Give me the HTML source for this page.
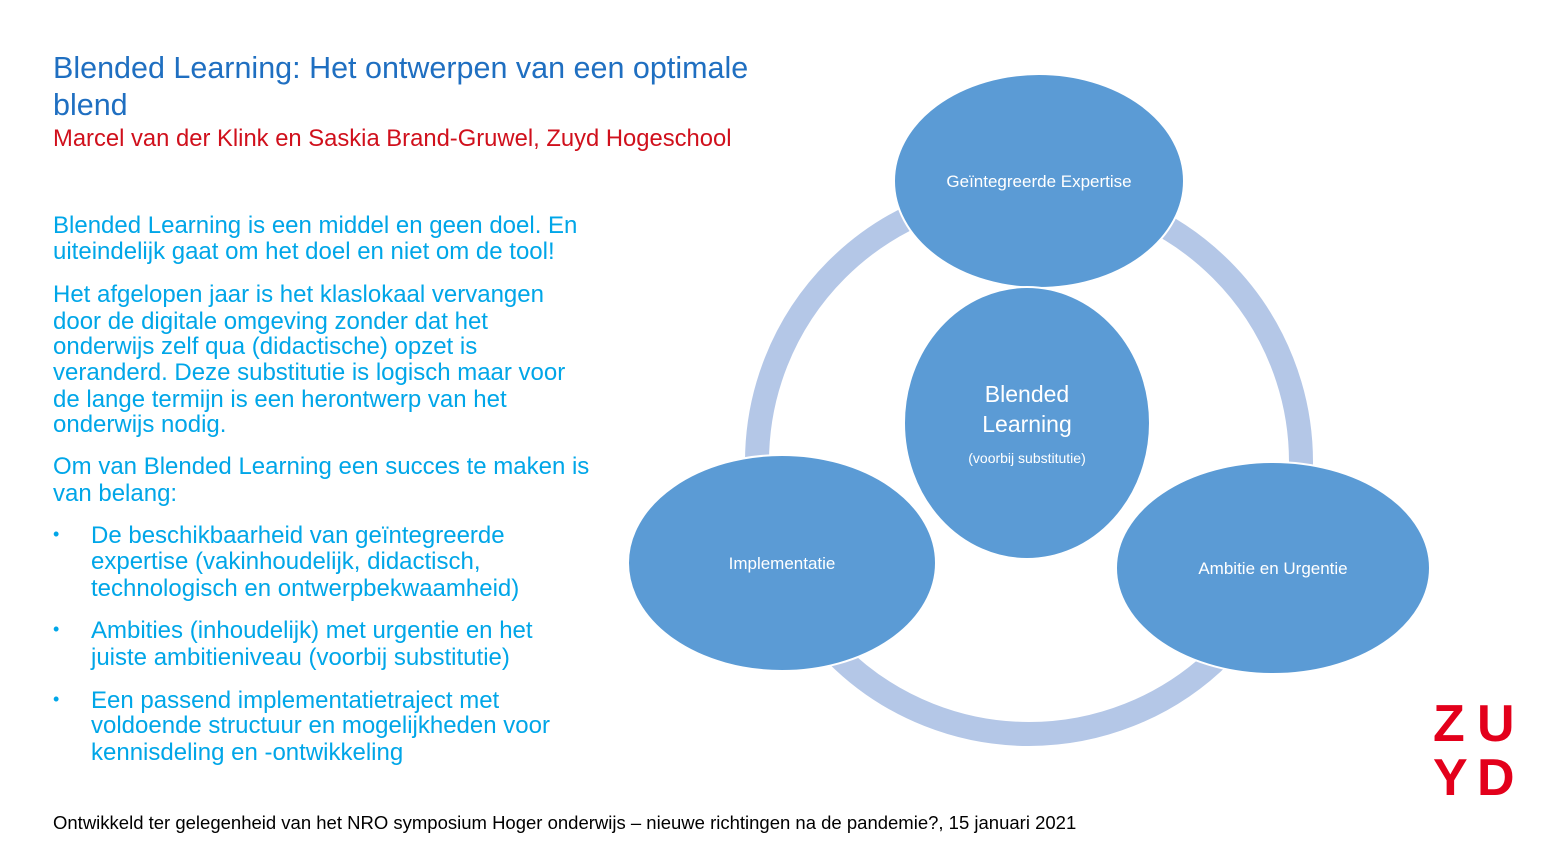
<!DOCTYPE html>
<html><head><meta charset="utf-8"><style>
body{margin:0;width:1544px;height:843px;background:#fff;position:relative;overflow:hidden;font-family:"Liberation Sans",sans-serif}
.l{position:absolute;white-space:nowrap}
.t{color:#1f6fc1;font-size:30.5px}
.r{color:#d0101c;font-size:23.8px}
.b{color:#00a6e8;font-size:24px}
.dot{color:#00a6e8;font-size:18px}
</style></head><body>
<div class="l t" style="left:53px;top:51px">Blended Learning: Het ontwerpen van een optimale</div>
<div class="l t" style="left:53px;top:88px">blend</div>
<div class="l r" style="left:53px;top:125px">Marcel van der Klink en Saskia Brand-Gruwel, Zuyd Hogeschool</div>

<div class="l b" style="left:53px;top:212px">Blended Learning is een middel en geen doel. En</div>
<div class="l b" style="left:53px;top:238px">uiteindelijk gaat om het doel en niet om de tool!</div>
<div class="l b" style="left:53px;top:281px">Het afgelopen jaar is het klaslokaal vervangen</div>
<div class="l b" style="left:53px;top:308px">door de digitale omgeving zonder dat het</div>
<div class="l b" style="left:53px;top:333px">onderwijs zelf qua (didactische) opzet is</div>
<div class="l b" style="left:53px;top:359px">veranderd. Deze substitutie is logisch maar voor</div>
<div class="l b" style="left:53px;top:386px">de lange termijn is  een herontwerp van het</div>
<div class="l b" style="left:53px;top:411px">onderwijs nodig.</div>
<div class="l b" style="left:53px;top:453px">Om van Blended Learning een succes te maken is</div>
<div class="l b" style="left:53px;top:480px">van belang:</div>
<div class="l dot" style="left:53px;top:524px">•</div>
<div class="l b" style="left:91px;top:522px">De beschikbaarheid van geïntegreerde</div>
<div class="l b" style="left:91px;top:548px">expertise (vakinhoudelijk, didactisch,</div>
<div class="l b" style="left:91px;top:575px">technologisch en ontwerpbekwaamheid)</div>
<div class="l dot" style="left:53px;top:619px">•</div>
<div class="l b" style="left:91px;top:617px">Ambities (inhoudelijk) met urgentie en het</div>
<div class="l b" style="left:91px;top:644px">juiste ambitieniveau (voorbij substitutie)</div>
<div class="l dot" style="left:53px;top:689px">•</div>
<div class="l b" style="left:91px;top:687px">Een passend implementatietraject met</div>
<div class="l b" style="left:91px;top:712px">voldoende structuur en mogelijkheden voor</div>
<div class="l b" style="left:91px;top:739px">kennisdeling en -ontwikkeling</div>

<div class="l" style="left:53px;top:812px;font-size:18.5px;color:#000">Ontwikkeld ter gelegenheid van het NRO symposium Hoger onderwijs – nieuwe richtingen na de pandemie?, 15 januari 2021</div>

<svg width="1544" height="843" style="position:absolute;left:0;top:0">
<circle cx="1029" cy="462" r="272" fill="none" stroke="#b4c7e7" stroke-width="24"/>
<g fill="#5b9bd5" stroke="#fff" stroke-width="2">
<ellipse cx="1039" cy="181" rx="145" ry="107"/>
<ellipse cx="1027" cy="423" rx="123" ry="136"/>
<ellipse cx="782" cy="563" rx="154" ry="108"/>
<ellipse cx="1273" cy="568" rx="157" ry="106"/>
</g>
<g fill="#fff" font-family="Liberation Sans,sans-serif" text-anchor="middle">
<text x="1039" y="187" font-size="17">Geïntegreerde Expertise</text>
<text x="1027" y="402" font-size="23">Blended</text>
<text x="1027" y="432" font-size="23">Learning</text>
<text x="1027" y="463" font-size="14">(voorbij substitutie)</text>
<text x="782" y="569" font-size="17">Implementatie</text>
<text x="1273" y="574" font-size="17">Ambitie en Urgentie</text>
</g>
<g fill="#e3001b" font-family="Liberation Sans,sans-serif" font-weight="bold" font-size="52">
<text x="1433" y="741">Z</text><text x="1477" y="741">U</text>
<text x="1433" y="795">Y</text><text x="1477" y="795">D</text>
</g>
</svg>
</body></html>
